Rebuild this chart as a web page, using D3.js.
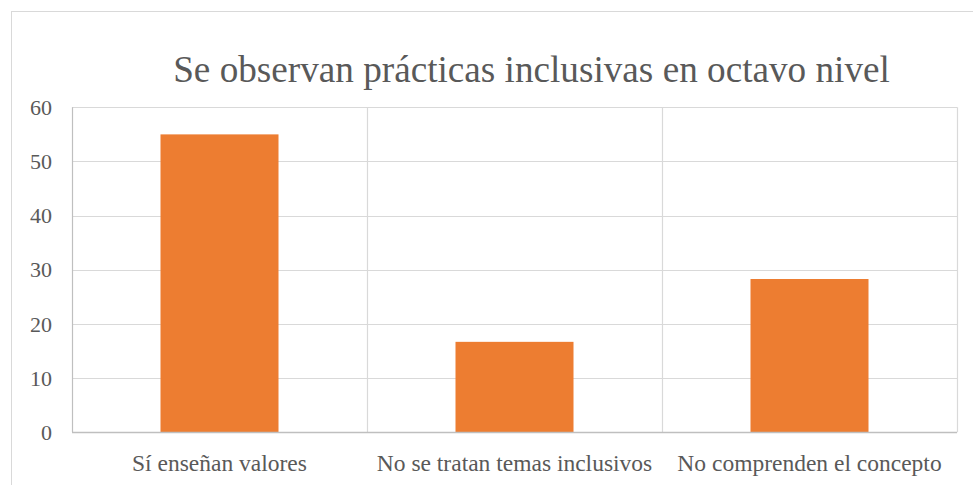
<!DOCTYPE html>
<html><head><meta charset="utf-8">
<script src="https://cdn.jsdelivr.net/npm/d3@7"></script>
</head>
<body style="margin:0;background:#fff">
<svg id="c" width="973" height="485" style="display:block"></svg>
<script>
const title = "Se observan prácticas inclusivas en octavo nivel";
const categories = ["Sí enseñan valores", "No se tratan temas inclusivos", "No comprenden el concepto"];
const values = [55, 16.7, 28.3];
const yTicks = [0, 10, 20, 30, 40, 50, 60];

const FF = "'Liberation Serif', 'Times New Roman', Tinos, serif";
const svg = d3.select("#c");
const m = {left: 72, right: 957, top: 107.3, bottom: 432.3};

// outer chart border
svg.append("rect").attr("x", 11.5).attr("y", 11.5).attr("width", 1000).attr("height", 600)
  .attr("fill", "none").attr("stroke", "#d9d9d9").attr("stroke-width", 1);

const x = d3.scaleBand().domain(categories).range([m.left, m.right]).paddingInner(0).paddingOuter(0);
const y = d3.scaleLinear().domain([0, 60]).range([m.bottom, m.top]);

// horizontal gridlines
svg.append("g").selectAll("line").data(yTicks.filter(d => d > 0)).join("line")
  .attr("x1", m.left).attr("x2", m.right)
  .attr("y1", d => Math.round(y(d)) + 0.5).attr("y2", d => Math.round(y(d)) + 0.5)
  .attr("stroke", "#d9d9d9").attr("stroke-width", 1.2);

// vertical category separators
const seps = categories.map(c => x(c)).concat([m.right]);
svg.append("g").selectAll("line").data(seps).join("line")
  .attr("x1", d => Math.round(d) + 0.5).attr("x2", d => Math.round(d) + 0.5)
  .attr("y1", m.top).attr("y2", m.bottom)
  .attr("stroke", d => d === m.left ? "#bfbfbf" : "#d9d9d9").attr("stroke-width", 1.2);

// bars
const bw = x.bandwidth() * 0.4;
svg.append("g").selectAll("rect").data(values).join("rect")
  .attr("x", (d, i) => x(categories[i]) + x.bandwidth() / 2 - bw / 2)
  .attr("width", bw)
  .attr("y", d => y(d))
  .attr("height", d => y(0) - y(d))
  .attr("fill", "#ED7D31");

// bottom axis line
svg.append("line").attr("x1", m.left).attr("x2", m.right)
  .attr("y1", Math.round(y(0)) + 0.5).attr("y2", Math.round(y(0)) + 0.5)
  .attr("stroke", "#bfbfbf").attr("stroke-width", 1.4);

// y axis
const yAxis = svg.append("g").attr("transform", `translate(${m.left},0)`)
  .call(d3.axisLeft(y).tickValues(yTicks).tickSize(0).tickPadding(20));
yAxis.select(".domain").remove();
yAxis.attr("font-family", null).attr("font-size", null);
yAxis.selectAll("text").attr("fill", "#595959")
  .style("font-family", FF).style("font-size", "22px");

// x labels
const xAxis = svg.append("g").attr("transform", `translate(0,${m.bottom})`)
  .call(d3.axisBottom(x).tickSize(0).tickPadding(0));
xAxis.select(".domain").remove();
xAxis.attr("font-family", null).attr("font-size", null);
xAxis.selectAll("text").attr("dy", null).attr("y", 38.5).attr("fill", "#595959")
  .style("font-family", FF).style("font-size", "23.5px");

// title
svg.append("text").attr("x", 531.5).attr("y", 82).attr("text-anchor", "middle")
  .attr("fill", "#595959").style("font-family", FF).style("font-size", "37.2px").text(title);
</script>
</body></html>
